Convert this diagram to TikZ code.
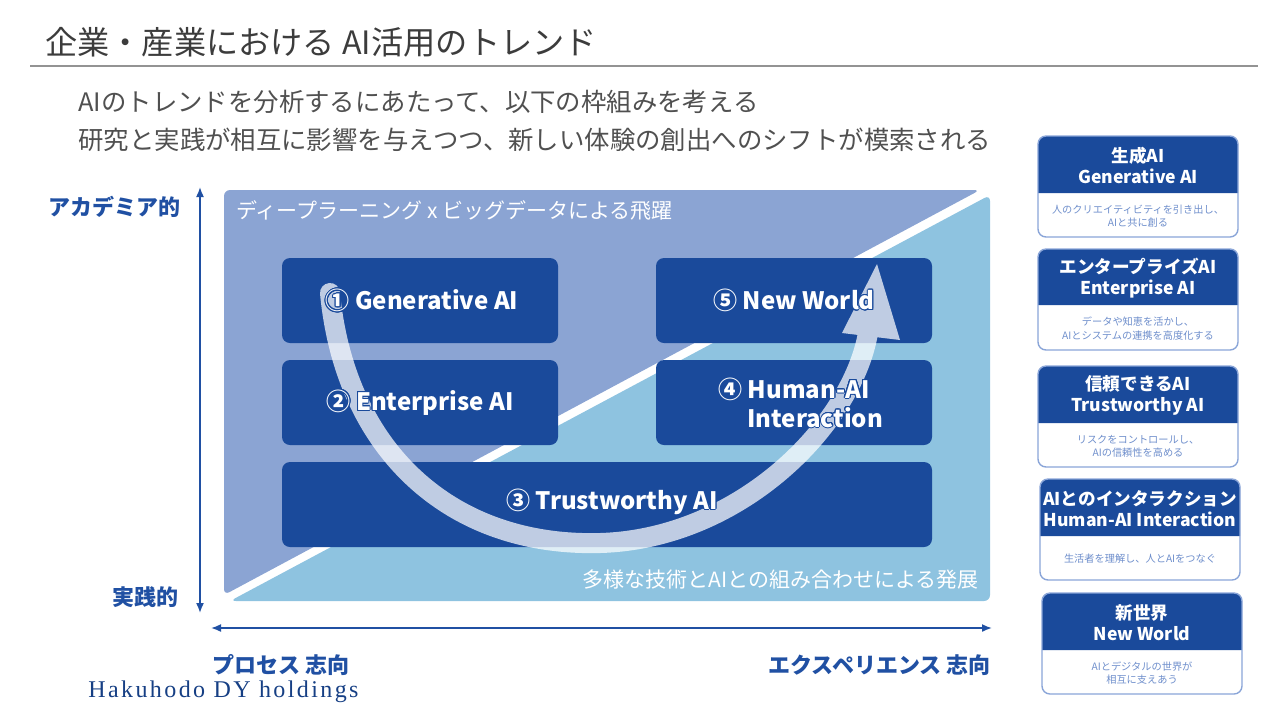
\documentclass[tikz,border=0pt]{standalone}
\usepackage{fontspec}
\usepackage[copies]{contour}
\setmainfont{Noto Sans CJK JP}
\newfontfamily\hakufont{Liberation Serif}[LetterSpace=10]
\usetikzlibrary{arrows.meta}
\definecolor{boxblue}{HTML}{1A4A9B}
\definecolor{darkreg}{HTML}{8BA4D3}
\definecolor{lightreg}{HTML}{8EC3E0}
\definecolor{axisblue}{HTML}{2050A3}
\definecolor{titlegray}{HTML}{3C3C3C}
\definecolor{cardline}{HTML}{8AA5D8}
\definecolor{bodyblue}{HTML}{6F8FCC}
\contourlength{0.5pt}
\newcommand\ol[1]{\contour{boxblue}{#1}}
\newcommand\mycard[9]{%
  \fill[white] (#1,#3) rectangle (#2,#5);
  \fill[boxblue] (#1,#4) [rounded corners=4pt] -- (#1,#3) -- (#2,#3) [sharp corners] -- (#2,#4) -- cycle;
  \draw[cardline, line width=0.7pt, rounded corners=4pt] (#1,#3) rectangle (#2,#5);
  \node[cardhead] (#6h) at ({(#1+#2)/2},{(#3+#4)/2+1}) {#7\\#8};
  \node[cardbody] (#6b) at ({(#1+#2)/2},{(#4+#5)/2+1}) {#9};
}
\tikzset{
  stagebox/.style={fill=boxblue, rounded corners=4pt, minimum width=138pt, minimum height=42.5pt, inner sep=0pt},
  stagetext/.style={text=white, font=\bfseries\fontsize{12}{14}\selectfont, inner sep=0pt},
  cardhead/.style={text=white, align=center, font=\bfseries\fontsize{8.8}{10.2}\selectfont, inner sep=0pt},
  cardbody/.style={text=bodyblue, align=center, font=\fontsize{5.1}{6.6}\selectfont, inner sep=0pt},
  axislabel/.style={text=axisblue, font=\bfseries\fontsize{11}{13}\selectfont, inner sep=0pt},
  axisline/.style={axisblue, line width=0.8pt, {Latex[length=5pt,width=4pt]}-{Latex[length=5pt,width=4pt]}},
  regiontext/.style={text=white, font=\fontsize{10.5}{12}\selectfont, inner sep=0pt},
}
\begin{document}
\begin{tikzpicture}[x=0.5pt,y=-0.5pt]
\useasboundingbox (0,0) rectangle (1280,720);
% title
\node[anchor=west, text=titlegray, font=\fontsize{16.1}{18}\selectfont, inner sep=0pt] (title) at (45,42) {企業・産業における AI活用のトレンド};
\coordinate (r1) at (30,66);
\coordinate (r2) at (1258,66);
\draw[gray!85, line width=0.6pt] (r1) -- (r2);
\node[anchor=west, text=titlegray!90, font=\fontsize{12.7}{15}\selectfont, inner sep=0pt] (sub1) at (78,102) {AIのトレンドを分析するにあたって、以下の枠組みを考える};
\node[anchor=west, text=titlegray!90, font=\fontsize{12.7}{15}\selectfont, inner sep=0pt] (sub2) at (78,140) {研究と実践が相互に影響を与えつつ、新しい体験の創出へのシフトが模索される};
% regions
\fill[darkreg, rounded corners=3pt] (224,190) -- (980,190) -- (224,595) -- cycle;
\fill[lightreg, rounded corners=3pt] (990,195) -- (990,601) -- (230,601) -- cycle;
\node[regiontext, anchor=west] (deep) at (236,210) {ディープラーニング x ビッグデータによる飛躍};
\node[regiontext, anchor=east] (tech) at (979,580) {多様な技術とAIとの組み合わせによる発展};
% stage boxes
\node[stagebox] (b1) at (420,300.5) {};
\node[stagebox] (b2) at (420,402.5) {};
\node[stagebox] (b5) at (794,300.5) {};
\node[stagebox] (b4) at (794,402.5) {};
\node[stagebox, minimum width=325pt] (b3) at (607,504.5) {};
% curved arrow
\begin{scope}[transparency group, opacity=0.72]
\draw[white, line width=10pt, line cap=round] (330,293) .. controls (345,450) and (450,547) .. (600,543) .. controls (740,539) and (852,425) .. (868,333);
\fill[white] (842,333) -- (877,264) -- (900,340) -- cycle;
\end{scope}
% stage texts
\node[stagetext] (t1) at (422,301) {\ol{① Generative AI}};
\node[stagetext] (t2) at (420,403) {\ol{② Enterprise AI}};
\node[stagetext] (t5) at (794,301) {\ol{⑤ New World}};
\node[stagetext, anchor=base west] (t4a) at (718,398) {\ol{④ Human-AI}};
\node[stagetext, anchor=base west] (t4b) at (747,427) {\ol{Interaction}};
\node[stagetext] (t3) at (612,502) {\ol{③ Trustworthy AI}};
% axes
\coordinate (ytop) at (200,187);
\coordinate (ybot) at (200,613);
\coordinate (xl) at (211,628);
\coordinate (xr) at (992,628);
\draw[axisline] (ytop) -- (ybot);
\draw[axisline] (xl) -- (xr);
\node[axislabel, anchor=east] (aca) at (181,207) {アカデミア的};
\node[axislabel, anchor=east] (pra) at (179,597) {実践的};
\node[axislabel, anchor=west] (pro) at (212,665) {プロセス 志向};
\node[axislabel, anchor=east] (exp) at (991,665) {エクスペリエンス 志向};
\node[anchor=west, text=boxblue!85!black, font=\hakufont\fontsize{12}{14}\selectfont, inner sep=0pt] (haku) at (88,692) {Hakuhodo DY holdings};
% cards
\mycard{1038}{1238}{136}{193}{237}{c1}{生成AI}{Generative AI}{人のクリエイティビティを引き出し、\\AIと共に創る}
\mycard{1038}{1238}{249}{305}{350}{c2}{エンタープライズAI}{Enterprise AI}{データや知恵を活かし、\\AIとシステムの連携を高度化する}
\mycard{1038}{1238}{366}{423}{467}{c3}{信頼できるAI}{Trustworthy AI}{リスクをコントロールし、\\AIの信頼性を高める}
\mycard{1040}{1240}{479}{536}{580}{c4}{AIとのインタラクション}{Human-AI Interaction}{生活者を理解し、人とAIをつなぐ}
\mycard{1042}{1242}{593}{650}{694}{c5}{新世界}{New World}{AIとデジタルの世界が\\相互に支えあう}
\end{tikzpicture}
\end{document}
